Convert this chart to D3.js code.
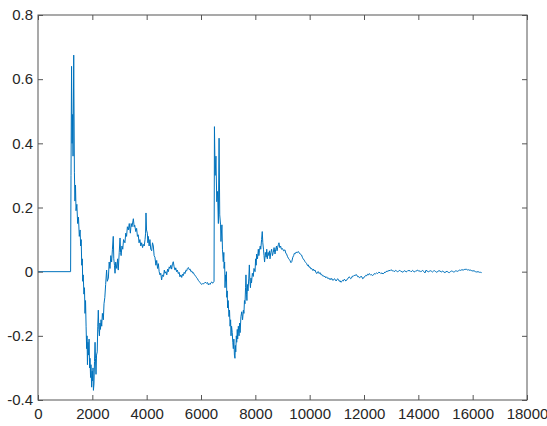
<!DOCTYPE html>
<html>
<head>
<meta charset="utf-8">
<script src="https://cdn.jsdelivr.net/npm/d3@7"></script>
<style>
  body { margin: 0; background: #fff; }
  .tick text { font-family: "Liberation Sans", Arial, sans-serif; font-size: 15px; fill: #262626; }
</style>
</head>
<body>
<div id="chart"></div>
<script>
(function () {
  // Signal samples [x, y]
  var signal = [
    [0, 0], [1200, 0], [1215, 0.30], [1235, 0.64], [1255, 0.40], [1275, 0.49], [1290, 0.36], [1315, 0.675],
    [1340, 0.31], [1360, 0.22], [1380, 0.27], [1400, 0.19], [1430, 0.21], [1460, 0.15], [1490, 0.17], [1520, 0.11],
    [1550, 0.13], [1570, 0.08], [1590, 0.10], [1610, 0.02], [1630, 0.04], [1645, -0.03], [1665, -0.01], [1690, -0.07],
    [1710, -0.05], [1730, -0.13], [1750, -0.09], [1770, -0.17], [1790, -0.24], [1805, -0.20], [1820, -0.29], [1840, -0.22],
    [1860, -0.26], [1880, -0.21], [1900, -0.30], [1915, -0.27], [1935, -0.33], [1950, -0.29], [1975, -0.36], [1995, -0.31],
    [2010, -0.34], [2025, -0.30], [2040, -0.37], [2060, -0.35], [2080, -0.28], [2100, -0.22], [2115, -0.27], [2135, -0.32],
    [2155, -0.26], [2180, -0.25], [2200, -0.17], [2220, -0.12], [2240, -0.18], [2260, -0.20], [2280, -0.16], [2300, -0.18],
    [2320, -0.15], [2345, -0.17], [2370, -0.13], [2405, -0.15], [2430, -0.10], [2460, -0.08], [2490, -0.04], [2525, 0.005],
    [2550, -0.03], [2590, -0.02], [2620, 0.03], [2650, 0.01], [2680, 0.05], [2710, 0.03], [2740, 0.07], [2770, 0.11],
    [2790, 0.04], [2815, 0.02], [2835, -0.005], [2860, 0.03], [2900, 0.01], [2930, 0.04], [2955, 0.005], [2990, 0.06],
    [3020, 0.105], [3040, 0.06], [3060, 0.05], [3090, 0.08], [3120, 0.07], [3150, 0.10], [3200, 0.09], [3230, 0.12],
    [3260, 0.11], [3290, 0.14], [3325, 0.13], [3360, 0.15], [3400, 0.12], [3430, 0.15], [3460, 0.14], [3510, 0.165],
    [3540, 0.14], [3560, 0.145], [3600, 0.125], [3630, 0.135], [3660, 0.11], [3690, 0.115], [3720, 0.09], [3750, 0.10],
    [3785, 0.08], [3815, 0.09], [3850, 0.075], [3875, 0.085], [3910, 0.08], [3940, 0.10], [3960, 0.12], [3975, 0.183],
    [3995, 0.13], [4025, 0.12], [4045, 0.09], [4060, 0.11], [4090, 0.08], [4120, 0.10], [4150, 0.07], [4185, 0.065],
    [4215, 0.09], [4245, 0.08], [4275, 0.05], [4305, 0.045], [4340, 0.02], [4370, 0.035], [4400, 0.01], [4430, 0.025],
    [4460, 0.0], [4490, -0.01], [4520, -0.005], [4550, -0.026], [4580, -0.01], [4620, -0.015], [4650, 0.005], [4675, -0.005],
    [4710, 0.0], [4740, -0.01], [4770, 0.008], [4800, 0.0], [4830, 0.015], [4860, 0.01], [4890, 0.02], [4920, 0.008],
    [4950, 0.025], [4980, 0.031], [5010, 0.015], [5045, 0.005], [5070, 0.012], [5100, 0.0], [5130, 0.005], [5165, -0.006],
    [5195, -0.002], [5225, -0.016], [5260, -0.01], [5290, -0.018], [5320, -0.008], [5350, -0.012], [5380, -0.002], [5410, -0.006],
    [5440, 0.004], [5470, 0.002], [5500, 0.01], [5535, 0.013], [5570, 0.006], [5600, 0.008], [5630, 0.0], [5660, 0.002],
    [5690, -0.004], [5720, -0.003], [5750, -0.009], [5780, -0.011], [5810, -0.015], [5840, -0.019], [5870, -0.022], [5900, -0.027],
    [5930, -0.03], [5960, -0.034], [5990, -0.036], [6025, -0.04], [6060, -0.037], [6100, -0.038], [6150, -0.033], [6210, -0.036],
    [6240, -0.034], [6270, -0.041], [6300, -0.037], [6330, -0.04], [6370, -0.034], [6400, -0.032], [6430, -0.036], [6455, -0.034],
    [6480, -0.03], [6495, 0.452], [6520, 0.30], [6550, 0.36], [6580, 0.218], [6610, 0.25], [6640, 0.15], [6665, 0.416],
    [6690, 0.177], [6720, 0.146], [6735, 0.094], [6770, 0.146], [6790, 0.07], [6820, 0.031], [6840, 0.06], [6850, 0.01],
    [6870, 0.03], [6885, -0.05], [6905, -0.01], [6920, -0.03], [6935, 0.0], [6950, -0.08], [6965, -0.06], [6980, -0.113],
    [7000, -0.09], [7030, -0.14], [7050, -0.12], [7070, -0.17], [7090, -0.15], [7105, -0.2], [7125, -0.17], [7150, -0.19],
    [7170, -0.22], [7190, -0.24], [7210, -0.21], [7230, -0.26], [7250, -0.27], [7265, -0.23], [7280, -0.25], [7300, -0.2],
    [7315, -0.22], [7335, -0.18], [7350, -0.21], [7375, -0.17], [7400, -0.2], [7420, -0.16], [7440, -0.19], [7470, -0.14],
    [7500, -0.125], [7530, -0.15], [7560, -0.12], [7580, -0.13], [7600, -0.09], [7620, -0.1], [7640, -0.05], [7655, -0.01],
    [7675, -0.07], [7690, -0.09], [7710, -0.04], [7730, -0.06], [7760, -0.02], [7780, 0.021], [7800, -0.03], [7820, -0.05],
    [7840, -0.02], [7860, -0.035], [7890, -0.005], [7925, -0.015], [7950, 0.01], [7990, 0.0], [8010, 0.04], [8030, 0.02],
    [8050, 0.055], [8080, 0.04], [8110, 0.07], [8130, 0.05], [8150, 0.065], [8180, 0.08], [8200, 0.07], [8230, 0.1],
    [8255, 0.125], [8275, 0.09], [8300, 0.07], [8320, 0.05], [8340, 0.03], [8370, 0.06], [8400, 0.045], [8420, 0.07],
    [8440, 0.04], [8470, 0.06], [8500, 0.05], [8520, 0.065], [8540, 0.04], [8570, 0.06], [8600, 0.07], [8630, 0.05],
    [8660, 0.06], [8690, 0.075], [8725, 0.055], [8750, 0.07], [8780, 0.08], [8800, 0.065], [8820, 0.075], [8850, 0.085],
    [8870, 0.09], [8900, 0.075], [8930, 0.08], [8960, 0.07], [9000, 0.072], [9040, 0.065], [9090, 0.068], [9120, 0.058],
    [9150, 0.055], [9180, 0.048], [9215, 0.042], [9250, 0.038], [9280, 0.034], [9310, 0.028], [9340, 0.031], [9380, 0.045],
    [9410, 0.05], [9435, 0.057], [9470, 0.056], [9500, 0.061], [9540, 0.059], [9580, 0.063], [9620, 0.058], [9650, 0.055],
    [9700, 0.052], [9730, 0.045], [9760, 0.04], [9800, 0.036], [9830, 0.031], [9860, 0.028], [9890, 0.025], [9920, 0.019],
    [9950, 0.021], [9980, 0.014], [10010, 0.015], [10040, 0.009], [10075, 0.01], [10110, 0.004], [10140, 0.008], [10170, 0.002],
    [10195, 0.005], [10230, -0.002], [10260, -0.006], [10290, -0.001], [10320, 0.0], [10350, -0.006], [10380, -0.003], [10410, -0.009],
    [10440, -0.008], [10470, -0.013], [10500, -0.012], [10530, -0.016], [10560, -0.014], [10590, -0.019], [10625, -0.016], [10660, -0.021],
    [10700, -0.02], [10730, -0.024], [10750, -0.021], [10780, -0.025], [10810, -0.021], [10850, -0.027], [10880, -0.026], [10910, -0.022],
    [10940, -0.024], [10970, -0.029], [11000, -0.026], [11030, -0.022], [11055, -0.024], [11090, -0.03], [11120, -0.028], [11150, -0.033],
    [11180, -0.031], [11210, -0.027], [11240, -0.029], [11270, -0.024], [11300, -0.025], [11330, -0.029], [11360, -0.027], [11390, -0.022],
    [11420, -0.021], [11450, -0.016], [11480, -0.018], [11510, -0.022], [11540, -0.02], [11570, -0.014], [11600, -0.015], [11640, -0.011],
    [11670, -0.013], [11700, -0.009], [11740, -0.011], [11770, -0.016], [11800, -0.015], [11830, -0.019], [11860, -0.018], [11890, -0.014],
    [11920, -0.016], [11950, -0.022], [11975, -0.021], [12010, -0.016], [12040, -0.015], [12070, -0.011], [12100, -0.013], [12130, -0.008],
    [12160, -0.01], [12190, -0.006], [12220, -0.008], [12250, -0.011], [12280, -0.009], [12310, -0.012], [12350, -0.01], [12380, -0.006],
    [12420, -0.007], [12460, -0.004], [12500, -0.006], [12540, -0.002], [12590, -0.003], [12620, -0.006], [12660, -0.004], [12700, -0.007],
    [12730, -0.005], [12770, -0.001], [12800, -0.002], [12840, 0.002], [12880, 0.001], [12920, 0.004], [12960, 0.003], [12990, 0.006],
    [13020, 0.005], [13050, 0.002], [13080, 0.003], [13110, 0.0], [13140, 0.002], [13170, 0.004], [13200, 0.002], [13230, 0.0],
    [13270, 0.001], [13300, 0.004], [13340, 0.003], [13370, 0.0], [13400, 0.001], [13420, -0.002], [13450, 0.0], [13480, 0.003],
    [13520, 0.002], [13550, -0.001], [13590, 0.001], [13620, 0.004], [13650, 0.003], [13695, 0.003], [13730, 0.0], [13760, 0.001],
    [13790, 0.004], [13820, 0.002], [13850, -0.001], [13880, 0.0], [13910, 0.003], [13940, 0.002], [13970, 0.005], [14000, 0.003],
    [14030, 0.001], [14060, 0.003], [14090, 0.0], [14120, 0.001], [14150, 0.004], [14180, 0.002], [14210, 0.0], [14245, -0.004],
    [14270, 0.002], [14290, 0.005], [14320, 0.001], [14340, 0.002], [14370, -0.001], [14400, 0.001], [14440, 0.003], [14490, 0.001],
    [14520, -0.001], [14560, 0.002], [14600, 0.003], [14640, 0.0], [14680, -0.002], [14720, 0.001], [14760, 0.003], [14800, 0.002],
    [14840, -0.001], [14870, 0.0], [14900, 0.002], [14940, -0.001], [14980, -0.003], [15020, 0.0], [15060, 0.001], [15100, -0.002],
    [15140, -0.003], [15180, 0.0], [15220, 0.002], [15260, 0.001], [15300, -0.001], [15340, 0.0], [15380, 0.003], [15410, 0.002],
    [15450, 0.001], [15480, 0.003], [15520, 0.005], [15560, 0.004], [15600, 0.006], [15655, 0.005], [15690, 0.007], [15720, 0.006],
    [15750, 0.008], [15780, 0.007], [15820, 0.005], [15850, 0.006], [15900, 0.004], [15930, 0.005], [15965, 0.003], [16010, 0.002],
    [16050, 0.003], [16100, 0.0], [16150, -0.001], [16200, 0.0], [16250, -0.002], [16290, -0.002], [16330, -0.003]
  ];
  var xTicks = [0, 2000, 4000, 6000, 8000, 10000, 12000, 14000, 16000, 18000];
  var yTicks = [-0.4, -0.2, 0, 0.2, 0.4, 0.6, 0.8];

  var Blue = "#0072BD";
  var AxisColor = "#555";

  var margin = { top: 15, right: 20, bottom: 26, left: 38 };
  var width = 547 - margin.left - margin.right;
  var height = 426 - margin.top - margin.bottom;

  var svg = d3
    .select("#chart")
    .append("svg")
    .attr("width", 547)
    .attr("height", 426)
    .append("g")
    .attr("transform", "translate(" + margin.left + "," + margin.top + ")");

  var x = d3.scaleLinear().domain([0, 18000]).range([0, width]);
  var y = d3.scaleLinear().domain([-0.4, 0.8]).range([height, 0]);

  // Signal line
  svg
    .append("path")
    .datum(signal)
    .attr("fill", "none")
    .attr("stroke", Blue)
    .attr("stroke-width", 1)
    .attr("stroke-linejoin", "round")
    .attr("d", d3.line().x(function (d) { return x(d[0]); }).y(function (d) { return y(d[1]); }));

  // Bottom axis with labels, ticks pointing inward
  svg
    .append("g")
    .attr("transform", "translate(0," + height + ")")
    .call(d3.axisBottom(x).tickValues(xTicks).tickSize(-5).tickSizeOuter(0).tickPadding(8)
      .tickFormat(function (d) { return d; }));

  // Left axis
  svg
    .append("g")
    .call(d3.axisLeft(y).tickValues(yTicks).tickSize(-5).tickSizeOuter(0).tickPadding(5)
      .tickFormat(function (d) { return d; }));

  // Top and right ticks (no labels)
  svg
    .append("g")
    .call(d3.axisTop(x).tickValues(xTicks).tickSize(-5).tickSizeOuter(0).tickFormat(""));
  svg
    .append("g")
    .attr("transform", "translate(" + width + ",0)")
    .call(d3.axisRight(y).tickValues(yTicks).tickSize(-5).tickSizeOuter(0).tickFormat(""));

  svg.selectAll(".domain").remove();
  svg.selectAll(".tick line").attr("stroke", AxisColor);

  // Box
  svg
    .append("rect")
    .attr("width", width)
    .attr("height", height)
    .attr("fill", "none")
    .attr("stroke", AxisColor)
    .attr("stroke-width", 1);
})();
</script>
</body>
</html>
